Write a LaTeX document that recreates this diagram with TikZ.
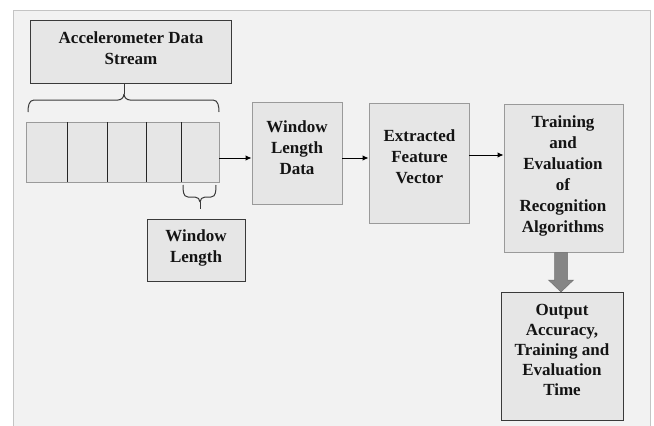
\documentclass[tikz,border=0pt]{standalone}
\usepackage{fontspec}
\setmainfont{Liberation Serif}
\usetikzlibrary{arrows.meta}
\definecolor{bgc}{HTML}{F2F2F2}
\definecolor{framec}{HTML}{C4C4C4}
\definecolor{boxc}{HTML}{E6E6E6}
\definecolor{lightedge}{HTML}{9A9A9A}
\definecolor{darkedge}{HTML}{3A3A3A}
\definecolor{fatc}{HTML}{858585}
\definecolor{txtc}{HTML}{141414}
\tikzset{
  boxdark/.style={draw=darkedge, fill=boxc, line width=0.9pt, inner sep=0pt},
  boxlight/.style={draw=lightedge, fill=boxc, line width=0.9pt, inner sep=0pt},
  lbl/.style={font=\bfseries\fontsize{17}{21}\selectfont, align=center, text=txtc, inner sep=0pt},
  arr/.style={draw=black, line width=1pt, -{Latex[length=6pt,width=5.5pt]}},
  bracel/.style={draw=darkedge, line width=1pt},
  divider/.style={draw=black!85, line width=0.9pt}
}
\begin{document}
\begin{tikzpicture}[x=1pt,y=1pt]
\useasboundingbox (0,0) rectangle (654,-426);
\clip (0,0) rectangle (654,-426);
\fill[white] (0,0) rectangle (654,-426);
\draw[fill=bgc, draw=framec, line width=1pt] (13,-10) rectangle (650,-440);

% Accelerometer Data Stream
\node[boxdark, minimum width=201pt, minimum height=63pt] (acc) at (130.5,-51.5) {};
\node[lbl] (acct) at (131,-48) {Accelerometer Data\\Stream};

% segmented bar
\node[boxlight, minimum width=193pt, minimum height=60pt] (bar) at (122.5,-152) {};
\draw[divider] (67.7,-122) -- (67.7,-182);
\draw[divider] (107.7,-122) -- (107.7,-182);
\draw[divider] (146.7,-122) -- (146.7,-182);
\draw[divider] (181.7,-122) -- (181.7,-182);

% top brace
\coordinate (tbtip) at (124,-94);
\draw[bracel] (28,-112) to[out=90,in=180] (34,-100) -- (118,-100) to[out=0,in=-90] (tbtip);
\draw[bracel] (tbtip) to[out=-90,in=180] (130,-100) -- (213,-100) to[out=0,in=90] (219,-112);
\draw[bracel] (tbtip) -- (tbtip |- acc.south);

% bottom brace
\coordinate (bbtip) at (200,-202);
\coordinate (bbend) at (200,-209);
\draw[bracel] (183,-185) to[out=-90,in=180] (188,-197) -- (195,-197) to[out=0,in=90] (bbtip);
\draw[bracel] (bbtip) to[out=90,in=180] (205,-197) -- (211,-197) to[out=0,in=-90] (216,-185);
\draw[bracel] (bbtip) -- (bbend);

% Window Length
\node[boxdark, minimum width=98pt, minimum height=62pt] (wl) at (196,-250) {};
\node[lbl] (wlt) at (196,-247.5) {Window\\Length};

% Window Length Data
\node[boxlight, minimum width=90pt, minimum height=102pt] (wld) at (297,-153) {};
\node[lbl] (wldt) at (297,-148) {Window\\Length\\Data};

% Extracted Feature Vector
\node[boxlight, minimum width=100pt, minimum height=120pt] (efv) at (419,-163) {};
\node[lbl] (efvt) at (419.5,-156.5) {Extracted\\Feature\\Vector};

% Training and Evaluation
\node[boxlight, minimum width=119pt, minimum height=148pt] (tra) at (563.5,-178) {};
\node[lbl] (trat) at (563,-175.5) {Training\\and\\Evaluation\\of\\Recognition\\Algorithms};

% Output
\node[boxdark, minimum width=122pt, minimum height=128pt] (out) at (562,-356) {};
\node[lbl, font=\bfseries\fontsize{17}{20}\selectfont] (outt) at (562,-349.5) {Output\\Accuracy,\\Training and\\Evaluation\\Time};

% arrows
\draw[arr] ([yshift=-6pt]bar.east) -- ([yshift=-6pt]bar.east -| wld.west);
\draw[arr] ([yshift=-5pt]wld.east) -- ([yshift=-5pt]wld.east -| efv.west);
\draw[arr] ([yshift=8pt]efv.east) -- ([yshift=8pt]efv.east -| tra.west);

% fat arrow
\filldraw[fill=fatc, draw=fatc!85!black, line width=0.5pt]
  (554.5,-252.5) -- (567.5,-252.5) -- (567.5,-280) -- (573.5,-280) -- (561,-292) -- (548.5,-280) -- (554.5,-280) -- cycle;
\end{tikzpicture}
\end{document}
